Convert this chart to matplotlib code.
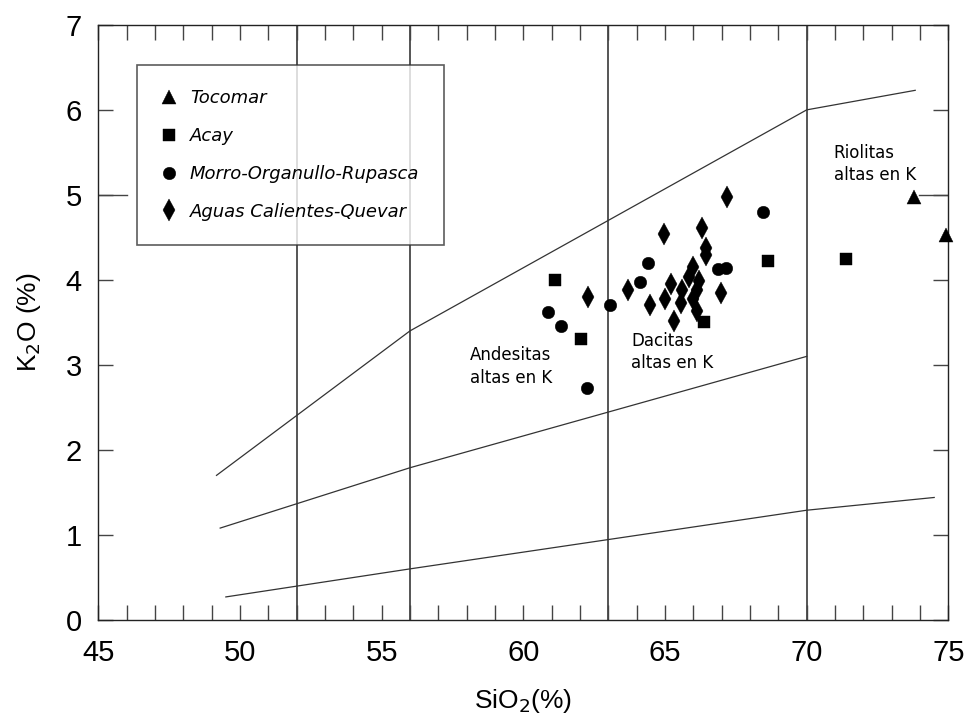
import matplotlib
matplotlib.use("Agg")
import matplotlib.pyplot as plt
from matplotlib.ticker import MultipleLocator
from matplotlib.lines import Line2D

# Boundary lines (K2O vs SiO2 classification)
upper_x = [49.17, 56.0, 70.0, 73.83]
upper_y = [1.70, 3.40, 6.00, 6.23]
mid_x = [49.3, 56.0, 70.0]
mid_y = [1.08, 1.79, 3.10]
low_x = [49.5, 56.0, 70.0, 74.5]
low_y = [0.27, 0.60, 1.29, 1.44]
div_x = [52, 56, 63, 70]

# Samples
tocomar_x = [73.77, 74.91]
tocomar_y = [4.98, 4.53]

acay_x = [61.12, 62.03, 66.37, 68.63, 71.38]
acay_y = [4.00, 3.30, 3.50, 4.22, 4.25]

morro_x = [60.86, 61.33, 62.26, 63.06, 64.12, 64.39, 66.88, 67.14, 68.47]
morro_y = [3.62, 3.46, 2.73, 3.70, 3.97, 4.20, 4.13, 4.14, 4.80]

aguas_x = [62.27, 63.71, 64.97, 64.47, 64.99, 65.22, 65.32, 65.56, 65.61, 65.86,
           65.98, 65.98, 66.12, 66.20, 66.14, 66.32, 66.44, 66.44, 66.97, 67.17]
aguas_y = [3.80, 3.88, 4.54, 3.70, 3.78, 3.95, 3.52, 3.73, 3.88, 4.03,
           4.15, 3.78, 3.88, 3.99, 3.63, 4.61, 4.37, 4.29, 3.84, 4.98]

labels = ["Tocomar", "Acay", "Morro-Organullo-Rupasca", "Aguas Calientes-Quevar"]

NUM_FONT = ["Liberation Sans", "DejaVu Sans"]
TXT_FONT = ["DejaVu Sans"]

# marker, size per group
STYLES = [("^", 9.5), ("s", 8.5), ("o", 9), ("d", 11)]

fig = plt.figure(figsize=(9.69, 7.25), dpi=100)
ax = fig.add_axes([0.1015, 0.145, 0.8772, 0.8207])

# field dividers
for x in div_x:
    ax.axvline(x, color="#555555", lw=1.4, zorder=1)

for xs, ys in [(upper_x, upper_y), (mid_x, mid_y), (low_x, low_y)]:
    ax.plot(xs, ys, color="#333333", lw=0.9, zorder=2)

groups = [(tocomar_x, tocomar_y), (acay_x, acay_y), (morro_x, morro_y), (aguas_x, aguas_y)]
for (xs, ys), (m, s) in zip(groups, STYLES):
    ax.plot(xs, ys, marker=m, markersize=s, markeredgewidth=0.3, color="black",
            linestyle="none", zorder=3, clip_on=False)

ax.set_xlim(45, 75)
ax.set_ylim(0, 7)
ax.xaxis.set_major_locator(MultipleLocator(5))
ax.xaxis.set_minor_locator(MultipleLocator(1))
ax.yaxis.set_major_locator(MultipleLocator(1))
ax.tick_params(axis="both", which="both", direction="in", top=True, right=True,
               width=1.0, color="#444444")
ax.tick_params(axis="x", which="both", length=11)
ax.tick_params(axis="y", which="major", length=11)
ax.tick_params(axis="x", which="major", pad=14)
ax.tick_params(axis="y", which="major", pad=12)
# longer tick at K2O = 5
for x0, x1 in [(0, 0.034), (0.966, 1)]:
    ax.plot([x0, x1], [5, 5], transform=ax.get_yaxis_transform(),
            color="#444444", lw=1.0, zorder=1)

for lab in ax.get_xticklabels() + ax.get_yticklabels():
    lab.set_fontfamily(NUM_FONT)
    lab.set_fontsize(21)

for sp in ax.spines.values():
    sp.set_linewidth(1.0)
    sp.set_color("#222222")

ax.set_xlabel("SiO$_2$(%)", fontsize=19, family=NUM_FONT, labelpad=14)
ax.set_ylabel("K$_2$O (%)", fontsize=19, family=NUM_FONT, labelpad=16)

# field names
txt = dict(fontsize=12, family=TXT_FONT, ha="left", va="center", linespacing=1.3)
ax.text(70.95, 5.36, "Riolitas\naltas en K", **txt)
ax.text(58.1, 2.98, "Andesitas\naltas en K", **txt)
ax.text(63.8, 3.15, "Dacitas\naltas en K", **txt)

# legend
handles = [Line2D([], [], color="black", linestyle="none", marker=m, markersize=s,
                  markeredgewidth=0.3) for m, s in STYLES]
leg = ax.legend(handles, labels, loc="upper left", bbox_to_anchor=(0.046, 0.933),
                frameon=True, fancybox=False, edgecolor="#333333",
                prop=dict(family=TXT_FONT, style="italic", size=13),
                labelspacing=1.1, handletextpad=0.75, borderpad=1.35,
                borderaxespad=0, handlelength=0.8)
leg.get_frame().set_linewidth(1.2)

fig.savefig("out.png", dpi=100)
